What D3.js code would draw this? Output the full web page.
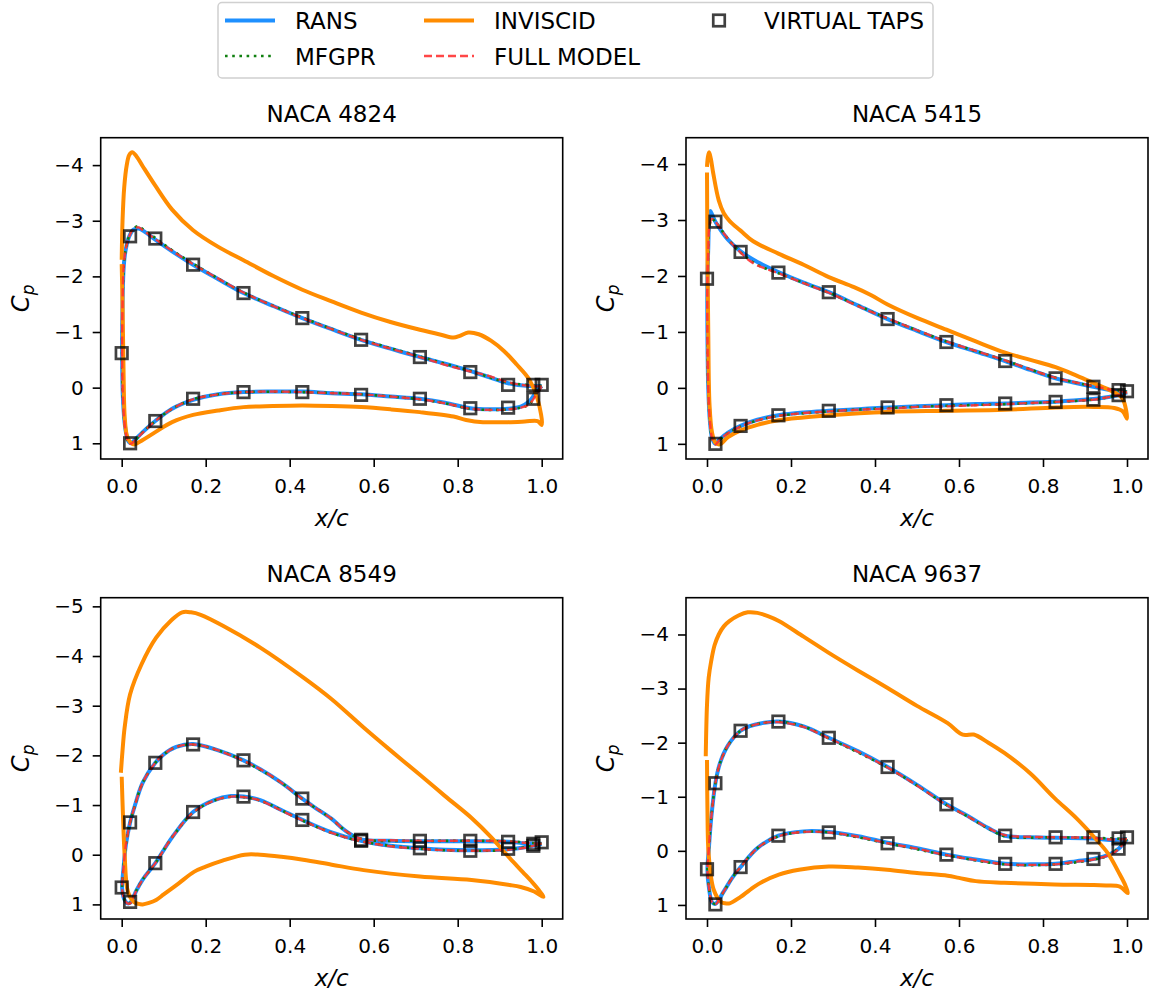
<!DOCTYPE html>
<html>
<head>
<meta charset="utf-8">
<script src="https://d3js.org/d3.v7.min.js"></script>
<style>
  body { margin: 0; background: #fff; }
  svg text { font-family: "DejaVu Sans", sans-serif; fill: #000; }
</style>
</head>
<body>
<svg id="chart" width="1150" height="995"></svg>
<script>
// ---- data: [x/c, Cp] pairs, in surface order ----
const titles = ["NACA 4824", "NACA 5415", "NACA 8549", "NACA 9637"];
const xTicks = [0, 0.2, 0.4, 0.6, 0.8, 1.0];
const yTicksTop = [-4, -3, -2, -1, 0, 1];
const yTicks8549 = [-5, -4, -3, -2, -1, 0, 1];

// NACA 4824
const rans4824 = [[1.0,-0.03],[0.97,-0.03],[0.92,-0.08],[0.87,-0.2],[0.83,-0.3],[0.77,-0.43],[0.71,-0.55],[0.64,-0.7],[0.57,-0.86],[0.5,-1.05],[0.43,-1.25],[0.36,-1.47],[0.29,-1.7],[0.23,-1.95],[0.17,-2.21],[0.12,-2.45],[0.08,-2.66],[0.055,-2.8],[0.04,-2.86],[0.028,-2.84],[0.018,-2.72],[0.01,-2.5],[0.005,-2.2],[0.002,-1.5],[0.001,-0.6],[0.003,0.2],[0.008,0.7],[0.015,0.95],[0.022,1.0],[0.03,0.95],[0.05,0.8],[0.08,0.6],[0.12,0.38],[0.17,0.22],[0.23,0.12],[0.29,0.08],[0.36,0.07],[0.43,0.07],[0.5,0.1],[0.57,0.12],[0.64,0.16],[0.71,0.2],[0.77,0.27],[0.83,0.37],[0.88,0.39],[0.92,0.38],[0.95,0.34],[0.97,0.25],[0.985,0.1],[1.0,-0.03]];
const mfgpr4824 = [[1.0,-0.03],[0.92,-0.09],[0.83,-0.3],[0.71,-0.56],[0.57,-0.87],[0.43,-1.26],[0.29,-1.71],[0.17,-2.23],[0.12,-2.47],[0.08,-2.69],[0.05,-2.85],[0.04,-2.9],[0.028,-2.86],[0.018,-2.73],[0.01,-2.5],[0.005,-2.2],[0.002,-1.5],[0.001,-0.6],[0.003,0.2],[0.008,0.72],[0.015,0.97],[0.022,1.0],[0.03,0.96],[0.05,0.8],[0.08,0.6],[0.12,0.38],[0.17,0.21],[0.23,0.12],[0.29,0.08],[0.43,0.08],[0.57,0.12],[0.71,0.21],[0.77,0.28],[0.83,0.38],[0.88,0.4],[0.92,0.39],[0.95,0.36],[0.97,0.3],[0.985,0.15],[1.0,-0.03]];
const inv4824 = [[0.0,-2.3],[0.002,-3.0],[0.006,-3.6],[0.012,-4.0],[0.018,-4.18],[0.025,-4.23],[0.035,-4.16],[0.05,-3.98],[0.08,-3.63],[0.12,-3.2],[0.17,-2.83],[0.23,-2.53],[0.29,-2.29],[0.36,-2.01],[0.43,-1.76],[0.5,-1.55],[0.57,-1.35],[0.64,-1.18],[0.71,-1.04],[0.76,-0.95],[0.79,-0.9],[0.805,-0.93],[0.825,-0.99],[0.85,-0.96],[0.88,-0.84],[0.91,-0.66],[0.94,-0.42],[0.97,-0.15],[0.99,0.2],[1.0,0.67],[0.99,0.6],[0.96,0.61],[0.92,0.62],[0.86,0.62],[0.82,0.58],[0.79,0.52],[0.71,0.44],[0.64,0.39],[0.57,0.35],[0.5,0.33],[0.43,0.32],[0.36,0.33],[0.29,0.35],[0.23,0.41],[0.17,0.49],[0.12,0.62],[0.08,0.8],[0.05,0.94],[0.03,1.02],[0.02,0.98],[0.012,0.85],[0.007,0.5],[0.004,-0.5],[0.002,-1.5],[0.0,-2.22]];
const full4824 = [[1.0,-0.02],[0.96,-0.04],[0.92,-0.1],[0.87,-0.22],[0.83,-0.29],[0.77,-0.41],[0.71,-0.55],[0.64,-0.7],[0.57,-0.86],[0.5,-1.05],[0.43,-1.25],[0.36,-1.47],[0.29,-1.71],[0.23,-1.96],[0.17,-2.22],[0.12,-2.46],[0.08,-2.67],[0.05,-2.83],[0.04,-2.88],[0.028,-2.85],[0.018,-2.72],[0.01,-2.5],[0.005,-2.2],[0.002,-1.5],[0.001,-0.6],[0.003,0.2],[0.008,0.72],[0.015,0.97],[0.022,1.01],[0.03,0.96],[0.05,0.81],[0.08,0.6],[0.12,0.38],[0.17,0.21],[0.23,0.12],[0.29,0.08],[0.36,0.07],[0.43,0.08],[0.5,0.1],[0.57,0.12],[0.64,0.16],[0.71,0.21],[0.77,0.28],[0.83,0.38],[0.88,0.4],[0.92,0.39],[0.95,0.36],[0.97,0.3],[0.985,0.15],[1.0,-0.02]];
const taps4824 = [[0.0,-0.62],[0.02,-2.72],[0.08,-2.68],[0.17,-2.21],[0.29,-1.7],[0.43,-1.25],[0.57,-0.86],[0.71,-0.55],[0.83,-0.28],[0.92,-0.05],[0.98,-0.05],[1.0,-0.05],[0.02,1.0],[0.08,0.6],[0.17,0.2],[0.29,0.08],[0.43,0.08],[0.57,0.13],[0.71,0.2],[0.83,0.37],[0.92,0.36],[0.98,0.2]];

// NACA 5415
const rans5415 = [[1.0,0.08],[0.97,0.05],[0.92,-0.02],[0.87,-0.1],[0.83,-0.17],[0.77,-0.32],[0.71,-0.48],[0.64,-0.65],[0.57,-0.82],[0.5,-1.02],[0.43,-1.23],[0.36,-1.47],[0.29,-1.71],[0.23,-1.88],[0.17,-2.07],[0.12,-2.25],[0.08,-2.44],[0.05,-2.65],[0.03,-2.85],[0.02,-2.97],[0.012,-3.1],[0.008,-3.16],[0.005,-3.0],[0.003,-2.5],[0.001,-1.95],[0.001,-1.0],[0.003,0.0],[0.007,0.6],[0.013,0.92],[0.02,1.0],[0.03,0.92],[0.05,0.8],[0.08,0.68],[0.12,0.57],[0.17,0.49],[0.23,0.44],[0.29,0.41],[0.36,0.38],[0.43,0.35],[0.5,0.33],[0.57,0.31],[0.64,0.29],[0.71,0.28],[0.77,0.26],[0.83,0.25],[0.88,0.22],[0.92,0.2],[0.96,0.16],[0.98,0.13],[1.0,0.08]];
const mfgpr5415 = [[1.0,0.07],[0.92,-0.03],[0.83,-0.18],[0.71,-0.49],[0.57,-0.83],[0.43,-1.24],[0.29,-1.7],[0.17,-2.05],[0.12,-2.2],[0.08,-2.42],[0.05,-2.66],[0.03,-2.87],[0.02,-2.97],[0.012,-3.02],[0.006,-2.9],[0.003,-2.4],[0.001,-1.95],[0.001,-1.0],[0.003,0.0],[0.007,0.6],[0.013,0.93],[0.02,1.0],[0.03,0.93],[0.05,0.81],[0.08,0.69],[0.12,0.58],[0.17,0.5],[0.29,0.42],[0.43,0.36],[0.57,0.32],[0.71,0.29],[0.83,0.25],[0.92,0.21],[0.96,0.16],[1.0,0.07]];
const inv5415 = [[0.0,-3.95],[0.002,-4.12],[0.005,-4.21],[0.009,-4.1],[0.015,-3.83],[0.028,-3.35],[0.04,-3.12],[0.054,-2.98],[0.08,-2.81],[0.11,-2.62],[0.17,-2.4],[0.23,-2.2],[0.29,-1.98],[0.35,-1.8],[0.39,-1.66],[0.43,-1.49],[0.5,-1.25],[0.57,-1.04],[0.64,-0.83],[0.71,-0.63],[0.77,-0.5],[0.83,-0.37],[0.88,-0.22],[0.92,-0.09],[0.95,0.01],[0.975,0.1],[0.99,0.2],[1.0,0.55],[0.99,0.42],[0.97,0.36],[0.92,0.34],[0.83,0.35],[0.71,0.39],[0.57,0.41],[0.43,0.43],[0.29,0.49],[0.23,0.53],[0.17,0.58],[0.12,0.66],[0.08,0.76],[0.05,0.88],[0.03,1.01],[0.02,0.98],[0.012,0.8],[0.006,0.3],[0.003,-1.0],[0.001,-2.5],[0.0,-3.85]];
const full5415 = [[1.0,0.08],[0.96,0.03],[0.92,-0.03],[0.87,-0.11],[0.83,-0.18],[0.77,-0.33],[0.71,-0.49],[0.64,-0.66],[0.57,-0.83],[0.5,-1.03],[0.43,-1.24],[0.36,-1.46],[0.29,-1.7],[0.23,-1.87],[0.17,-2.05],[0.12,-2.19],[0.1,-2.28],[0.08,-2.42],[0.06,-2.57],[0.04,-2.76],[0.02,-2.97],[0.012,-3.02],[0.006,-2.9],[0.003,-2.4],[0.001,-1.95],[0.001,-1.0],[0.003,0.0],[0.007,0.6],[0.013,0.93],[0.02,1.01],[0.03,0.93],[0.05,0.81],[0.08,0.69],[0.12,0.58],[0.17,0.5],[0.23,0.45],[0.29,0.42],[0.36,0.39],[0.43,0.37],[0.5,0.34],[0.57,0.33],[0.64,0.31],[0.71,0.29],[0.77,0.27],[0.83,0.25],[0.88,0.23],[0.92,0.21],[0.96,0.16],[0.98,0.13],[1.0,0.08]];
const taps5415 = [[0.0,-1.95],[0.02,-2.97],[0.08,-2.43],[0.17,-2.06],[0.29,-1.71],[0.43,-1.23],[0.57,-0.82],[0.71,-0.48],[0.83,-0.17],[0.92,-0.02],[0.98,0.04],[1.0,0.06],[0.02,1.0],[0.08,0.68],[0.17,0.49],[0.29,0.41],[0.43,0.35],[0.57,0.31],[0.71,0.28],[0.83,0.25],[0.92,0.21],[0.98,0.13]];

// NACA 8549
const rans8549 = [[1.0,-0.22],[0.96,-0.23],[0.92,-0.26],[0.83,-0.27],[0.71,-0.27],[0.64,-0.28],[0.57,-0.31],[0.53,-0.5],[0.5,-0.72],[0.46,-0.95],[0.43,-1.13],[0.38,-1.45],[0.33,-1.72],[0.29,-1.9],[0.23,-2.1],[0.17,-2.23],[0.13,-2.17],[0.1,-2.02],[0.08,-1.85],[0.05,-1.45],[0.03,-0.95],[0.02,-0.65],[0.01,-0.2],[0.004,0.3],[0.001,0.66],[0.004,0.85],[0.012,0.97],[0.02,0.97],[0.035,0.72],[0.05,0.5],[0.08,0.17],[0.12,-0.35],[0.17,-0.86],[0.22,-1.1],[0.26,-1.18],[0.29,-1.17],[0.33,-1.1],[0.38,-0.9],[0.43,-0.7],[0.5,-0.45],[0.57,-0.28],[0.64,-0.18],[0.71,-0.13],[0.77,-0.1],[0.83,-0.09],[0.92,-0.11],[0.96,-0.15],[1.0,-0.22]];
const mfgpr8549 = [[1.0,-0.22],[0.92,-0.27],[0.83,-0.28],[0.71,-0.28],[0.57,-0.32],[0.53,-0.5],[0.5,-0.72],[0.43,-1.12],[0.38,-1.45],[0.29,-1.89],[0.23,-2.1],[0.17,-2.22],[0.13,-2.17],[0.1,-2.02],[0.08,-1.85],[0.05,-1.45],[0.03,-0.95],[0.02,-0.65],[0.01,-0.2],[0.004,0.3],[0.001,0.66],[0.004,0.85],[0.012,0.97],[0.02,0.97],[0.035,0.72],[0.05,0.5],[0.08,0.17],[0.12,-0.35],[0.17,-0.85],[0.22,-1.09],[0.26,-1.17],[0.29,-1.16],[0.33,-1.09],[0.43,-0.69],[0.5,-0.44],[0.57,-0.27],[0.71,-0.12],[0.83,-0.08],[0.92,-0.1],[1.0,-0.22]];
const inv8549 = [[-0.002,-1.65],[0.002,-2.1],[0.007,-2.56],[0.02,-3.23],[0.047,-3.83],[0.082,-4.37],[0.117,-4.71],[0.144,-4.88],[0.165,-4.88],[0.188,-4.83],[0.241,-4.61],[0.33,-4.17],[0.432,-3.57],[0.5,-3.13],[0.576,-2.56],[0.64,-2.1],[0.71,-1.61],[0.77,-1.18],[0.833,-0.74],[0.88,-0.35],[0.924,0.07],[0.955,0.35],[0.976,0.54],[0.992,0.7],[1.004,0.85],[0.982,0.74],[0.95,0.65],[0.924,0.61],[0.833,0.51],[0.71,0.44],[0.576,0.31],[0.5,0.2],[0.432,0.1],[0.38,0.04],[0.33,0.0],[0.293,0.0],[0.24,0.12],[0.2,0.24],[0.173,0.34],[0.135,0.58],[0.1,0.8],[0.082,0.91],[0.065,0.97],[0.05,1.0],[0.04,0.99],[0.029,0.95],[0.015,0.75],[0.007,0.0],[0.003,-0.8],[0.0,-1.57]];
const full8549 = [[1.0,-0.22],[0.96,-0.24],[0.92,-0.27],[0.83,-0.28],[0.71,-0.28],[0.64,-0.29],[0.57,-0.32],[0.53,-0.5],[0.5,-0.72],[0.46,-0.95],[0.43,-1.12],[0.38,-1.45],[0.33,-1.72],[0.29,-1.89],[0.23,-2.1],[0.17,-2.22],[0.13,-2.17],[0.1,-2.02],[0.08,-1.85],[0.05,-1.45],[0.03,-0.95],[0.02,-0.65],[0.01,-0.2],[0.004,0.3],[0.001,0.66],[0.004,0.85],[0.012,0.97],[0.02,0.98],[0.035,0.72],[0.05,0.5],[0.08,0.17],[0.12,-0.35],[0.17,-0.85],[0.22,-1.09],[0.26,-1.17],[0.29,-1.16],[0.33,-1.09],[0.38,-0.89],[0.43,-0.69],[0.5,-0.44],[0.57,-0.27],[0.64,-0.17],[0.71,-0.12],[0.77,-0.09],[0.83,-0.08],[0.92,-0.1],[0.96,-0.14],[1.0,-0.22]];
const taps8549 = [[0.0,0.66],[0.02,-0.65],[0.08,-1.85],[0.17,-2.22],[0.29,-1.9],[0.43,-1.13],[0.57,-0.3],[0.71,-0.28],[0.83,-0.28],[0.92,-0.26],[0.98,-0.22],[1.0,-0.25],[0.02,0.95],[0.08,0.17],[0.17,-0.86],[0.29,-1.17],[0.43,-0.7],[0.57,-0.28],[0.71,-0.13],[0.83,-0.08],[0.92,-0.12],[0.98,-0.18]];

// NACA 9637
const rans9637 = [[1.0,-0.22],[0.96,-0.2],[0.92,-0.23],[0.83,-0.24],[0.77,-0.25],[0.71,-0.28],[0.67,-0.42],[0.62,-0.65],[0.57,-0.86],[0.5,-1.22],[0.43,-1.55],[0.36,-1.84],[0.29,-2.09],[0.23,-2.3],[0.17,-2.39],[0.13,-2.36],[0.1,-2.3],[0.08,-2.22],[0.05,-1.95],[0.03,-1.6],[0.02,-1.25],[0.01,-0.6],[0.004,0.0],[0.001,0.34],[0.005,0.7],[0.012,0.95],[0.02,0.98],[0.04,0.75],[0.06,0.5],[0.08,0.3],[0.12,-0.05],[0.17,-0.28],[0.23,-0.36],[0.29,-0.35],[0.36,-0.27],[0.43,-0.15],[0.5,-0.05],[0.57,0.07],[0.64,0.16],[0.71,0.24],[0.77,0.25],[0.83,0.24],[0.88,0.19],[0.92,0.15],[0.96,0.06],[0.98,-0.04],[1.0,-0.22]];
const mfgpr9637 = [[1.0,-0.22],[0.92,-0.24],[0.83,-0.25],[0.71,-0.27],[0.67,-0.41],[0.62,-0.64],[0.57,-0.85],[0.5,-1.21],[0.43,-1.54],[0.29,-2.08],[0.23,-2.3],[0.17,-2.39],[0.13,-2.36],[0.1,-2.3],[0.08,-2.22],[0.05,-1.95],[0.03,-1.6],[0.02,-1.25],[0.01,-0.6],[0.004,0.0],[0.001,0.34],[0.005,0.7],[0.012,0.95],[0.02,0.98],[0.04,0.75],[0.06,0.5],[0.08,0.3],[0.12,-0.05],[0.17,-0.27],[0.23,-0.35],[0.29,-0.34],[0.43,-0.14],[0.57,0.08],[0.71,0.25],[0.83,0.25],[0.92,0.16],[0.96,0.07],[1.0,-0.22]];
const inv9637 = [[-0.003,-1.75],[0.0,-2.7],[0.004,-3.2],[0.01,-3.51],[0.018,-3.8],[0.028,-4.0],[0.04,-4.15],[0.054,-4.25],[0.075,-4.35],[0.097,-4.41],[0.12,-4.4],[0.145,-4.34],[0.171,-4.25],[0.23,-3.96],[0.29,-3.66],[0.36,-3.33],[0.43,-3.01],[0.5,-2.68],[0.573,-2.36],[0.603,-2.17],[0.615,-2.14],[0.635,-2.15],[0.67,-2.0],[0.708,-1.81],[0.77,-1.43],[0.827,-0.98],[0.88,-0.6],[0.921,-0.26],[0.955,0.05],[0.979,0.38],[0.995,0.62],[1.002,0.78],[0.983,0.66],[0.95,0.64],[0.921,0.63],[0.827,0.62],[0.708,0.59],[0.64,0.56],[0.6,0.5],[0.573,0.46],[0.5,0.41],[0.429,0.35],[0.36,0.31],[0.29,0.29],[0.219,0.35],[0.171,0.44],[0.13,0.58],[0.113,0.66],[0.08,0.85],[0.054,0.97],[0.043,0.97],[0.033,0.94],[0.016,0.72],[0.004,0.07],[0.001,-0.8],[0.0,-1.68]];
const full9637 = [[1.0,-0.22],[0.96,-0.21],[0.92,-0.24],[0.83,-0.25],[0.77,-0.26],[0.71,-0.29],[0.67,-0.42],[0.62,-0.64],[0.57,-0.85],[0.5,-1.21],[0.43,-1.54],[0.36,-1.83],[0.29,-2.08],[0.23,-2.29],[0.17,-2.38],[0.13,-2.36],[0.1,-2.3],[0.08,-2.22],[0.05,-1.95],[0.03,-1.6],[0.02,-1.25],[0.01,-0.6],[0.004,0.0],[0.001,0.34],[0.005,0.7],[0.012,0.95],[0.02,0.99],[0.04,0.75],[0.06,0.5],[0.08,0.3],[0.12,-0.05],[0.17,-0.27],[0.23,-0.35],[0.29,-0.34],[0.36,-0.26],[0.43,-0.14],[0.5,-0.04],[0.57,0.08],[0.64,0.17],[0.71,0.25],[0.77,0.26],[0.83,0.25],[0.88,0.2],[0.92,0.16],[0.96,0.07],[0.98,-0.03],[1.0,-0.22]];
const taps9637 = [[0.0,0.34],[0.02,-1.25],[0.08,-2.22],[0.17,-2.39],[0.29,-2.09],[0.43,-1.55],[0.57,-0.86],[0.71,-0.28],[0.83,-0.25],[0.92,-0.25],[0.98,-0.23],[1.0,-0.25],[0.02,0.99],[0.08,0.3],[0.17,-0.28],[0.29,-0.34],[0.43,-0.14],[0.57,0.07],[0.71,0.24],[0.83,0.24],[0.92,0.15],[0.98,-0.04]];

const panels = [
  { title: titles[0], rans: rans4824, mfgpr: mfgpr4824, inviscid: inv4824, full: full4824, taps: taps4824, yTicks: yTicksTop },
  { title: titles[1], rans: rans5415, mfgpr: mfgpr5415, inviscid: inv5415, full: full5415, taps: taps5415, yTicks: yTicksTop },
  { title: titles[2], rans: rans8549, mfgpr: mfgpr8549, inviscid: inv8549, full: full8549, taps: taps8549, yTicks: yTicks8549 },
  { title: titles[3], rans: rans9637, mfgpr: mfgpr9637, inviscid: inv9637, full: full9637, taps: taps9637, yTicks: yTicksTop }
];

// ---- styles ----
const styles = {
  rans:     { color: "#1e90ff", width: 4, dash: null, opacity: 1 },
  mfgpr:    { color: "#108010", width: 2.6, dash: "2.6,4.6", opacity: 1 },
  inviscid: { color: "#ff8c00", width: 4, dash: null, opacity: 1 },
  full:     { color: "#ff3333", width: 2.4, dash: "8,4", opacity: 0.9 }
};

let svg = d3.select("#chart");

// axes boxes (left, right, top, bottom)
let boxes = [
  { left: 100.7, right: 562.7, top: 137.7, bottom: 459 },
  { left: 686, right: 1148, top: 137.7, bottom: 459 },
  { left: 100.7, right: 562.7, top: 597.7, bottom: 919 },
  { left: 686, right: 1148, top: 597.7, bottom: 919 }
];

function drawPanel(p, box) {
  let g = svg.append("g");
  let x = d3.scaleLinear().domain([-0.05, 1.05]).range([box.left, box.right]);
  let vals = [].concat(p.rans, p.inviscid, p.mfgpr, p.full, p.taps).map(d => d[1]);
  let lo = d3.min(vals), hi = d3.max(vals), pad = (hi - lo) * 0.05;
  // inverted Cp axis: negative values at the top
  let y = d3.scaleLinear().domain([lo - pad, hi + pad]).range([box.top, box.bottom]);

  let line = d3.line()
    .x(d => x(d[0]))
    .y(d => y(d[1]))
    .curve(d3.curveCatmullRom.alpha(0.5));

  let clipId = "clip" + p.title.replace(/\s/g, "");
  svg.append("clipPath").attr("id", clipId)
    .append("rect")
    .attr("x", box.left).attr("y", box.top)
    .attr("width", box.right - box.left).attr("height", box.bottom - box.top);

  let plot = g.append("g").attr("clip-path", "url(#" + clipId + ")");
  ["rans", "mfgpr", "inviscid", "full"].forEach(key => {
    let s = styles[key];
    plot.append("path")
      .datum(p[key])
      .attr("d", line)
      .attr("fill", "none")
      .attr("stroke", s.color)
      .attr("stroke-width", s.width)
      .attr("stroke-dasharray", s.dash)
      .attr("stroke-opacity", s.opacity)
      .attr("stroke-linejoin", "round");
  });

  let side = 11.5;
  g.selectAll("rect.tap")
    .data(p.taps)
    .enter()
    .append("rect")
    .attr("class", "tap")
    .attr("x", d => x(d[0]) - side / 2)
    .attr("y", d => y(d[1]) - side / 2)
    .attr("width", side)
    .attr("height", side)
    .attr("fill", "none")
    .attr("stroke", "#000")
    .attr("stroke-opacity", 0.75)
    .attr("stroke-width", 2.7);

  // axes
  let xAxis = d3.axisBottom(x).tickValues(xTicks).tickFormat(d3.format(".1f")).tickSize(8).tickPadding(12);
  let yAxis = d3.axisLeft(y).tickValues(p.yTicks).tickFormat(d3.format("d")).tickSize(8).tickPadding(9);

  let gx = g.append("g").attr("transform", "translate(0," + box.bottom + ")").call(xAxis);
  let gy = g.append("g").attr("transform", "translate(" + box.left + ",0)").call(yAxis);
  [gx, gy].forEach(a => {
    a.select(".domain").remove();
    a.selectAll(".tick line").attr("stroke", "#000").attr("stroke-width", 1.6);
    a.selectAll(".tick text").attr("font-size", "20px").attr("font-family", "DejaVu Sans");
  });

  g.append("rect")
    .attr("x", box.left).attr("y", box.top)
    .attr("width", box.right - box.left).attr("height", box.bottom - box.top)
    .attr("fill", "none").attr("stroke", "#000").attr("stroke-width", 1.6);

  let cx = (box.left + box.right) / 2;
  let cy = (box.top + box.bottom) / 2;

  g.append("text")
    .attr("x", cx).attr("y", box.top - 15.5)
    .attr("text-anchor", "middle")
    .attr("font-size", "23px")
    .text(p.title);

  g.append("text")
    .attr("x", cx).attr("y", box.bottom + 67)
    .attr("text-anchor", "middle")
    .attr("font-size", "23px")
    .attr("font-style", "italic")
    .text("x/c");

  let yl = g.append("text")
    .attr("transform", "translate(" + (box.left - 72) + "," + cy + ") rotate(-90)")
    .attr("text-anchor", "middle")
    .attr("font-size", "24px")
    .attr("font-style", "italic");
  yl.append("tspan").text("C");
  yl.append("tspan").attr("dy", 5).attr("font-size", "17px").text("p");
}

panels.forEach((p, i) => drawPanel(p, boxes[i]));

// ---- legend ----
const legendLabels = ["RANS", "MFGPR", "INVISCID", "FULL MODEL", "VIRTUAL TAPS"];
const legendKeys = ["rans", "mfgpr", "inviscid", "full", "taps"];
let colX = [225, 424, 694];
let rowY = [20.5, 56];
let leg = svg.append("g");
leg.append("rect")
  .attr("x", 218).attr("y", 2.5)
  .attr("width", 715).attr("height", 75.5)
  .attr("rx", 4)
  .attr("fill", "#fff").attr("fill-opacity", 0.8)
  .attr("stroke", "#d0d0d0").attr("stroke-width", 1.5);

legendKeys.forEach((key, i) => {
  let cx = colX[Math.floor(i / 2)];
  let cy = rowY[i % 2];
  if (key === "taps") {
    leg.append("rect")
      .attr("x", cx + 25 - 5.75).attr("y", cy - 5.75)
      .attr("width", 11.5).attr("height", 11.5)
      .attr("fill", "none").attr("stroke", "#000")
      .attr("stroke-opacity", 0.75).attr("stroke-width", 2.7);
  } else {
    let s = styles[key];
    leg.append("line")
      .attr("x1", cx).attr("x2", cx + 50)
      .attr("y1", cy).attr("y2", cy)
      .attr("stroke", s.color)
      .attr("stroke-width", s.width)
      .attr("stroke-dasharray", s.dash)
      .attr("stroke-opacity", s.opacity);
  }
  leg.append("text")
    .attr("x", cx + 70).attr("y", cy + 8.5)
    .attr("font-size", "23px")
    .text(legendLabels[i]);
});
</script>
</body>
</html>
